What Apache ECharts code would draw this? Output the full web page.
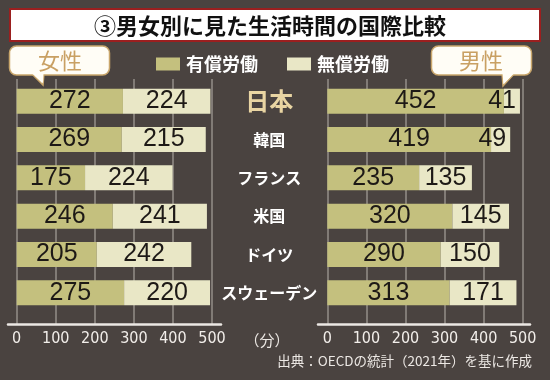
<!DOCTYPE html>
<html><head><meta charset="utf-8">
<script src="https://cdn.jsdelivr.net/npm/echarts@6/dist/echarts.min.js"></script>
<style>html,body{margin:0;padding:0;background:#4a4340;}#c{width:550px;height:380px;}</style>
</head><body><div id="c"></div>
<script>
const countries = ['日本', '韓国', 'フランス', '米国', 'ドイツ', 'スウェーデン'];
const femalePaid = [272, 269, 175, 246, 205, 275];
const femaleUnpaid = [224, 215, 224, 241, 242, 220];
const malePaid = [452, 419, 235, 320, 290, 313];
const maleUnpaid = [41, 49, 135, 145, 150, 171];
const xTicks = [0, 100, 200, 300, 400, 500];
const seriesNames = ['有償労働', '無償労働'];

const PAID = '#c4c07e', UNPAID = '#e9e7c6', BG = '#4a4340';
const JP = '"Noto Sans CJK JP", sans-serif';
const NARROW = '"Liberation Sans Narrow", "DejaVu Sans Condensed", sans-serif';

const chart = echarts.init(document.getElementById('c'), null, {renderer: 'canvas'});

const L = {left: 16.7, width: 195.3};
const R = {left: 327.3, width: 195.4};
const barTop = 82, barH = 230, lineTop = 79, lineH = 245;

function valueAxis(grid, mode) {
  const base = {type: 'value', gridIndex: grid, min: xTicks[0], max: xTicks[xTicks.length - 1], interval: xTicks[1] - xTicks[0]};
  if (mode === 'hidden') return Object.assign(base, {show: false});
  if (mode === 'grid') return Object.assign(base, {
    axisLine: {show: false}, axisTick: {show: false},
    splitLine: {show: true, lineStyle: {color: '#948e89', width: 1.5}},
    axisLabel: {color: '#f2eeea', fontSize: 16, fontFamily: NARROW, margin: 7}
  });
  return Object.assign(base, {
    axisLine: {show: true, lineStyle: {color: '#ece8e4', width: 2.5}},
    axisTick: {show: false}, splitLine: {show: false}, axisLabel: {show: false}
  });
}
function catAxis(grid, showLabels) {
  return {
    type: 'category', gridIndex: grid, data: countries, inverse: true,
    axisLine: {show: false}, axisTick: {show: false}, splitLine: {show: false},
    axisLabel: showLabels ? {
      show: true, align: 'center', margin: 58,
      formatter: (v, i) => i === 0 ? '{jp|' + v + '}' : '{c|' + v + '}',
      rich: {
        jp: {color: '#e9d5a3', fontSize: 24, fontWeight: 'bold', fontFamily: JP},
        c: {color: '#ffffff', fontSize: 16, fontWeight: 'bold', fontFamily: JP}
      }
    } : {show: false}
  };
}
function hiddenY(grid) { return {type: 'value', gridIndex: grid, show: false}; }

const valueLabel = {show: true, position: 'inside', color: '#1d1916', fontSize: 25, fontFamily: '"Liberation Sans", sans-serif'};
function barSeries(name, data, axisIdx, color) {
  return {
    type: 'bar', name: name, stack: 's' + axisIdx, xAxisIndex: axisIdx, yAxisIndex: axisIdx,
    barWidth: 25, itemStyle: {color: color}, label: valueLabel,
    data: data.map(v => v < 80 ? {value: v, label: {position: 'insideRight', distance: 4}} : v),
    animation: false
  };
}

chart.setOption({
  backgroundColor: BG,
  animation: false,
  legend: {
    left: 151, top: 50, itemWidth: 24, itemHeight: 13, itemGap: 29, icon: 'rect',
    data: seriesNames,
    textStyle: {color: '#ffffff', fontSize: 18, fontWeight: 'bold', fontFamily: JP, padding: [0, 0, 0, 1]}
  },
  grid: [
    {left: L.left, width: L.width, top: barTop, height: barH},
    {left: L.left, width: L.width, top: lineTop, height: lineH},
    {left: 8, width: 213, top: lineTop, height: lineH},
    {left: R.left, width: R.width, top: barTop, height: barH},
    {left: R.left, width: R.width, top: lineTop, height: lineH},
    {left: 318, width: 212, top: lineTop, height: lineH}
  ],
  xAxis: [
    valueAxis(0, 'hidden'), valueAxis(1, 'grid'), valueAxis(2, 'line'),
    valueAxis(3, 'hidden'), valueAxis(4, 'grid'), valueAxis(5, 'line')
  ],
  yAxis: [
    catAxis(0, false), hiddenY(1), hiddenY(2),
    catAxis(3, true), hiddenY(4), hiddenY(5)
  ],
  series: [
    barSeries(seriesNames[0], femalePaid, 0, PAID),
    barSeries(seriesNames[1], femaleUnpaid, 0, UNPAID),
    barSeries(seriesNames[0], malePaid, 3, PAID),
    barSeries(seriesNames[1], maleUnpaid, 3, UNPAID)
  ],
  graphic: [
    {type: 'rect', shape: {x: 10, y: 9, width: 530, height: 32}, style: {fill: '#ffffff', stroke: '#9b1f1f', lineWidth: 2}, z: 10},
    {type: 'text', x: 270, y: 25.5, style: {text: '③男女別に見た生活時間の国際比較', fill: '#111111', font: 'bold 22px "Noto Sans CJK JP", sans-serif', align: 'center', verticalAlign: 'middle'}, z: 11},
    // 女性 callout
    {type: 'polygon', shape: {points: [[31, 73], [44, 73], [43, 85]]}, style: {fill: '#fffdf6', stroke: '#c9a66b', lineWidth: 1.5}, z: 10},
    {type: 'rect', shape: {x: 9.5, y: 46, width: 100, height: 29, r: 7}, style: {fill: '#fffdf6', stroke: '#c9a66b', lineWidth: 1.5}, z: 10},
    {type: 'polygon', shape: {points: [[32, 73.5], [43.5, 73.5], [43, 83]]}, style: {fill: '#fffdf6'}, z: 11},
    {type: 'text', x: 60, y: 61, style: {text: '女性', fill: '#c9a063', font: '22px "Noto Sans CJK JP", sans-serif', align: 'center', verticalAlign: 'middle'}, z: 12},
    // 男性 callout
    {type: 'polygon', shape: {points: [[502, 73], [515, 73], [503, 86]]}, style: {fill: '#fffdf6', stroke: '#c9a66b', lineWidth: 1.5}, z: 10},
    {type: 'rect', shape: {x: 431.5, y: 46, width: 100, height: 29, r: 7}, style: {fill: '#fffdf6', stroke: '#c9a66b', lineWidth: 1.5}, z: 10},
    {type: 'polygon', shape: {points: [[502.5, 73.5], [514, 73.5], [503.5, 84]]}, style: {fill: '#fffdf6'}, z: 11},
    {type: 'text', x: 481, y: 61, style: {text: '男性', fill: '#c9a063', font: '22px "Noto Sans CJK JP", sans-serif', align: 'center', verticalAlign: 'middle'}, z: 12},
    // unit and source
    {type: 'text', x: 267, y: 340, style: {text: '（分）', fill: '#ece8e4', font: '15px "Noto Sans CJK JP", sans-serif', align: 'center', verticalAlign: 'middle'}},
    {type: 'text', x: 532, y: 361, style: {text: '出典：OECDの統計（2021年）を基に作成', fill: '#ece8e4', font: '13.5px "Noto Sans CJK JP", sans-serif', align: 'right', verticalAlign: 'middle'}}
  ]
});
</script>
</body></html>
